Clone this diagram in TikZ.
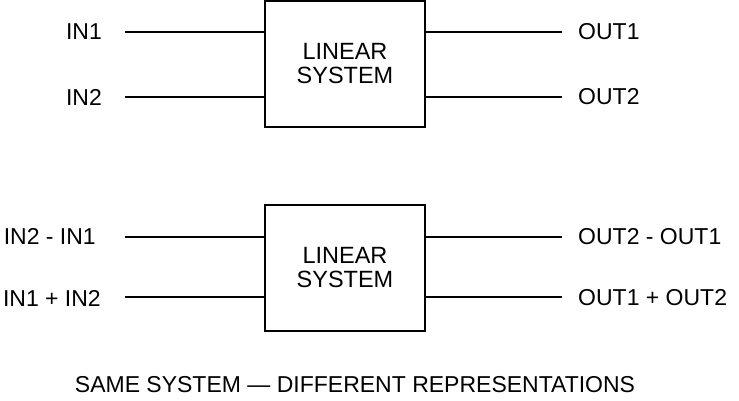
\documentclass[tikz,border=0pt]{standalone}
\usepackage{fontspec}
\setmainfont{Liberation Sans}
\begin{document}
\begin{tikzpicture}[x=1pt,y=-1pt,
  sys/.style={draw,line width=2.8pt,minimum width=160pt,minimum height=126pt,align=center,font=\fontsize{23.5}{24}\selectfont},
  wire/.style={line width=2.6pt},
  lbl/.style={font=\fontsize{23}{25}\selectfont,inner sep=0pt}]
\useasboundingbox (0,0) rectangle (739,400);
\node[sys] (b1) at (345,64) {LINEAR\\SYSTEM};
\node[sys] (b2) at (345,268) {LINEAR\\SYSTEM};
\coordinate (a1) at (125,32); \coordinate (a2) at (125,97);
\coordinate (c1) at (562,32); \coordinate (c2) at (562,97);
\coordinate (a3) at (125,237); \coordinate (a4) at (125,297);
\coordinate (c3) at (562,237); \coordinate (c4) at (562,297);
\draw[wire] (a1) -- (a1 -| b1.west); \draw[wire] (a2) -- (a2 -| b1.west);
\draw[wire] (c1) -- (c1 -| b1.east); \draw[wire] (c2) -- (c2 -| b1.east);
\draw[wire] (a3) -- (a3 -| b2.west); \draw[wire] (a4) -- (a4 -| b2.west);
\draw[wire] (c3) -- (c3 -| b2.east); \draw[wire] (c4) -- (c4 -| b2.east);
\node[lbl,anchor=east] (l1) at (102,32) {IN1};
\node[lbl,anchor=east] (l2) at (102,97) {IN2};
\node[lbl,anchor=west] (r1) at (578,32) {OUT1};
\node[lbl,anchor=west] (r2) at (578,97) {OUT2};
\node[lbl,anchor=east] (l3) at (96,236) {IN2 - IN1};
\node[lbl,anchor=east] (l4) at (101,298) {IN1 + IN2};
\node[lbl,anchor=west] (r3) at (578,237) {OUT2 - OUT1};
\node[lbl,anchor=west] (r4) at (578,298) {OUT1 + OUT2};
\node[lbl] (cap) at (355,385) {SAME SYSTEM — DIFFERENT REPRESENTATIONS};
\end{tikzpicture}
\end{document}
